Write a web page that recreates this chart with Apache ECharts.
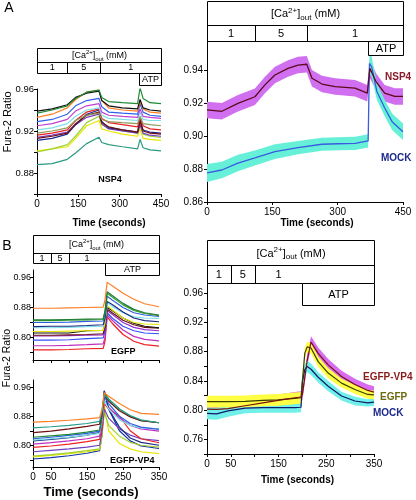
<!DOCTYPE html>
<html><head><meta charset="utf-8">
<script src="https://cdn.jsdelivr.net/npm/echarts@6/dist/echarts.min.js"></script>
<style>html,body{margin:0;padding:0;background:#fff}#c{width:416px;height:500px}</style>
</head><body><div id="c"></div>
<script>
// ================= DATA =================
// Panel A (left): individual NSP4 cell traces
const tA = [0,55,110,140,180,225,235,260,310,365,374,385,410,450];
const greenA   = [0.937,0.940,0.944,0.951,0.957,0.959,0.952,0.948,0.947,0.946,0.961,0.951,0.947,0.946];
const blackA   = [0.939,0.941,0.945,0.952,0.956,0.958,0.949,0.944,0.942,0.941,0.950,0.942,0.940,0.939];
const orangeA  = [0.933,0.936,0.942,0.950,0.957,0.959,0.949,0.942,0.940,0.939,0.948,0.941,0.938,0.937];
const blueA    = [0.929,0.931,0.936,0.944,0.949,0.951,0.943,0.938,0.937,0.936,0.946,0.938,0.935,0.934];
const magentaA = [0.925,0.927,0.931,0.939,0.944,0.946,0.938,0.935,0.934,0.933,0.941,0.934,0.933,0.932];
const cyanA    = [0.921,0.923,0.927,0.934,0.940,0.942,0.935,0.932,0.931,0.930,0.938,0.931,0.930,0.930];
const oliveA   = [0.918,0.920,0.923,0.930,0.935,0.937,0.931,0.929,0.928,0.927,0.934,0.927,0.926,0.925];
const redA     = [0.916,0.918,0.921,0.930,0.938,0.941,0.932,0.928,0.926,0.924,0.933,0.925,0.922,0.921];
const purpleA  = [0.914,0.916,0.919,0.926,0.933,0.936,0.927,0.922,0.920,0.918,0.926,0.918,0.916,0.915];
const darkredA = [0.913,0.915,0.918,0.927,0.935,0.938,0.928,0.924,0.921,0.919,0.929,0.920,0.918,0.917];
const navyA    = [0.911,0.913,0.917,0.926,0.936,0.940,0.929,0.923,0.921,0.919,0.931,0.921,0.919,0.918];
const limeA    = [0.900,0.903,0.907,0.915,0.928,0.934,0.926,0.923,0.920,0.918,0.925,0.917,0.915,0.914];
const yellowA  = [0.901,0.903,0.905,0.913,0.925,0.930,0.922,0.920,0.917,0.915,0.922,0.913,0.912,0.911];
const tealA    = [0.888,0.889,0.893,0.899,0.908,0.914,0.909,0.907,0.905,0.903,0.912,0.904,0.902,0.901];

// Panel A (right): mean +/- SEM
const tNsp4   = [0,34,71,110,133,156,186,209,229,241,264,294,340,368,374,388,408,431,450];
const nsp4Mean= [0.9158,0.9150,0.9198,0.9238,0.931,0.937,0.941,0.943,0.9435,0.935,0.9315,0.930,0.929,0.926,0.941,0.933,0.926,0.924,0.924];
const nsp4Sem = [0.005,0.005,0.005,0.005,0.005,0.005,0.005,0.005,0.005,0.005,0.005,0.005,0.005,0.005,0.006,0.005,0.005,0.005,0.005];
const tMock   = [0,34,71,110,156,209,264,300,340,370,373,378,390,408,425,440,450];
const mockMean= [0.8776,0.8794,0.8836,0.8867,0.8905,0.893,0.895,0.8953,0.8955,0.897,0.944,0.942,0.927,0.917,0.9087,0.905,0.9026];
const mockSem = [0.0055,0.005,0.005,0.0045,0.0045,0.004,0.004,0.004,0.004,0.004,0.006,0.006,0.005,0.005,0.005,0.005,0.005];

// Panel B (left top): EGFP cell traces
const tBe = [0,50,100,150,195,200,206,220,250,280,310,350];
const orangeBe  = [0.878,0.878,0.879,0.880,0.881,0.900,0.947,0.938,0.918,0.902,0.890,0.882];
const dgreenBe  = [0.847,0.847,0.848,0.849,0.850,0.870,0.922,0.912,0.891,0.875,0.866,0.860];
const greenBe   = [0.845,0.845,0.846,0.847,0.848,0.868,0.918,0.908,0.887,0.872,0.864,0.858];
const blueBe    = [0.840,0.840,0.841,0.843,0.844,0.862,0.910,0.900,0.880,0.866,0.860,0.856];
const navyBe    = [0.829,0.830,0.830,0.832,0.834,0.850,0.896,0.888,0.868,0.852,0.845,0.842];
const cyanBe    = [0.826,0.826,0.827,0.829,0.830,0.848,0.893,0.883,0.866,0.855,0.852,0.851];
const yellowBe  = [0.816,0.816,0.817,0.818,0.819,0.838,0.885,0.874,0.852,0.840,0.836,0.835];
const blackBe   = [0.812,0.812,0.812,0.818,0.819,0.836,0.880,0.872,0.852,0.838,0.830,0.826];
const darkredBe = [0.806,0.806,0.807,0.808,0.810,0.828,0.876,0.866,0.846,0.834,0.827,0.825];
const violetBe  = [0.804,0.804,0.805,0.806,0.807,0.824,0.872,0.862,0.840,0.827,0.821,0.818];
const blue2Be   = [0.793,0.793,0.794,0.797,0.799,0.816,0.866,0.852,0.830,0.818,0.812,0.810];
const magentaBe = [0.778,0.778,0.779,0.781,0.783,0.800,0.860,0.846,0.820,0.803,0.795,0.791];
const redBe     = [0.767,0.767,0.768,0.770,0.771,0.790,0.855,0.838,0.808,0.790,0.781,0.777];

// Panel B (left bottom): EGFP-VP4 cell traces
const tBv = [0,50,100,150,185,192,198,210,240,270,300,350];
const orangeBv  = [0.864,0.866,0.869,0.873,0.876,0.900,0.945,0.935,0.915,0.898,0.888,0.885];
const tealBv    = [0.848,0.851,0.855,0.860,0.866,0.895,0.940,0.926,0.900,0.882,0.870,0.862];
const darkredBv = [0.835,0.839,0.845,0.852,0.858,0.890,0.940,0.922,0.895,0.878,0.868,0.862];
const greenBv   = [0.822,0.826,0.830,0.836,0.842,0.880,0.945,0.928,0.900,0.880,0.868,0.862];
const blueBv    = [0.818,0.822,0.827,0.833,0.839,0.880,0.936,0.915,0.880,0.860,0.850,0.844];
const cyanBv    = [0.814,0.818,0.822,0.828,0.833,0.870,0.925,0.900,0.870,0.855,0.848,0.845];
const navyBv    = [0.812,0.816,0.821,0.828,0.835,0.880,0.950,0.900,0.850,0.820,0.808,0.800];
const magentaBv = [0.803,0.807,0.812,0.818,0.825,0.860,0.925,0.905,0.875,0.855,0.845,0.839];
const redBv     = [0.794,0.798,0.803,0.810,0.816,0.850,0.915,0.900,0.880,0.840,0.818,0.807];
const purpleBv  = [0.782,0.786,0.790,0.795,0.800,0.840,0.900,0.875,0.845,0.828,0.818,0.813];
const ygreenBv  = [0.770,0.774,0.779,0.785,0.790,0.830,0.890,0.855,0.825,0.808,0.800,0.795];
const yellowBv  = [0.768,0.772,0.777,0.782,0.788,0.830,0.910,0.840,0.805,0.790,0.782,0.777];
const dblueBv   = [0.762,0.766,0.771,0.778,0.785,0.830,0.950,0.900,0.840,0.812,0.798,0.791];

// Panel B (right): mean +/- SEM
const tBm      = [0,20,44,80,117,149,184,197,200,205,210,218,233,254,282,310,337,350];
const vp4Mean  = [0.8013,0.801,0.802,0.806,0.810,0.8135,0.817,0.818,0.822,0.845,0.868,0.893,0.8776,0.862,0.846,0.835,0.827,0.8247];
const vp4Sem   = [0.008,0.008,0.008,0.008,0.008,0.008,0.008,0.008,0.008,0.008,0.008,0.008,0.008,0.008,0.008,0.008,0.008,0.008];
const egfpMean = [0.8116,0.8116,0.8116,0.812,0.8135,0.814,0.816,0.817,0.840,0.878,0.8866,0.885,0.8664,0.8507,0.837,0.8283,0.8215,0.821];
const egfpSem  = [0.008,0.008,0.008,0.008,0.008,0.008,0.008,0.008,0.008,0.007,0.007,0.007,0.007,0.007,0.006,0.006,0.006,0.006];
const mockBMean= [0.7955,0.795,0.799,0.8027,0.8035,0.8035,0.8035,0.804,0.8395,0.8556,0.8597,0.856,0.845,0.8328,0.8193,0.8125,0.810,0.811];
const mockBSem = [0.008,0.008,0.008,0.007,0.007,0.007,0.007,0.007,0.008,0.008,0.008,0.008,0.007,0.007,0.006,0.006,0.005,0.005];

// Protocol bars
const caSegA = [[0,110,'1'],[110,230,'5'],[230,450,'1']];
const caLabelAtA = [55,170,340];
const atpA = [370,450];
const caSegB = [[0,50,'1'],[50,100,'5'],[100,350,'1']];
const caLabelAtB = [25,75,150];
const atpB = [200,350];

// Tick values
const xTicksA = [0,150,300,450];
const xTicksB = [0,50,100,150,200,250,300,350];
const xLabelsB = [0,50,150,250,350];
const yTicksAL = [0.86,0.88,0.90,0.92,0.94,0.96];
const yLabelsAL = [0.88,0.92,0.96];
const yTicksAR = [0.86,0.88,0.90,0.92,0.94];
const yTicksBL = [0.76,0.80,0.84,0.88,0.92,0.96];
const yLabelsBL = [0.80,0.88,0.96];
const yTicksBR = [0.74,0.76,0.78,0.80,0.82,0.84,0.86,0.88,0.90,0.92,0.94,0.96];
const yLabelsBR = [0.76,0.80,0.84,0.88,0.92,0.96];

// ================= LAYOUT / STYLE =================
const FONT = '"Liberation Sans", Arial, sans-serif';
const grids = [
  {left:37, top:89, width:124, height:105},
  {left:207, top:41, width:196, height:161},
  {left:33, top:270, width:126, height:90},
  {left:33, top:380, width:126, height:88},
  {left:207, top:283, width:167, height:171}
];
const hdr = [
  {axis:0, top:48, split:62, bottom:73, atpBottom:85, fs:9, segs:caSegA, at:caLabelAtA, atp:atpA},
  {axis:1, top:1, split:25, bottom:41, atpBottom:55, fs:11, segs:caSegA, at:caLabelAtA, atp:atpA},
  {axis:2, top:235, split:253, bottom:263, atpBottom:275, fs:9, segs:caSegB, at:caLabelAtB, atp:atpB},
  {axis:4, top:240, split:265, bottom:283, atpBottom:305, fs:11, segs:caSegB, at:caLabelAtB, atp:atpB}
];

const axisCommon = {
  axisLine:{show:true, onZero:false, lineStyle:{color:'#000', width:1}},
  splitLine:{show:false}
};
function xAx(gi, max, ticks, labels, showLab, name, nameStyle){
  return Object.assign({}, axisCommon, {
    type:'value', gridIndex:gi, min:0, max:max,
    axisTick:{show:true, length:3, lineStyle:{color:'#000'}, customValues:ticks},
    axisLabel:{show:showLab, customValues:labels, color:'#000', fontSize:10, fontFamily:FONT, margin:5},
    name:name, nameLocation:'middle', nameGap:nameStyle ? nameStyle.gap : 0,
    nameTextStyle: nameStyle ? {color:'#000', fontWeight:'bold', fontSize:nameStyle.fs, fontFamily:FONT, padding:nameStyle.pad} : {}
  });
}
function yAx(gi, min, max, ticks, labels, fs, margin){
  return Object.assign({}, axisCommon, {
    type:'value', gridIndex:gi, min:min, max:max,
    axisTick:{show:true, length:3, lineStyle:{color:'#000'}, customValues:ticks},
    axisLabel:{customValues:labels, color:'#000', fontSize:fs, fontFamily:FONT, margin:margin,
      formatter:v=>v.toFixed(2)}
  });
}

const series = [];
function addLine(gi, t, v, color, w, z){
  series.push({type:'line', xAxisIndex:gi, yAxisIndex:gi, data:t.map((x,i)=>[x,v[i]]),
    showSymbol:false, symbol:'none', silent:true, z:z||2,
    lineStyle:{color:color, width:w||1.1}});
}
function addBand(gi, t, mean, sem, color){
  series.push({type:'custom', xAxisIndex:gi, yAxisIndex:gi, silent:true, z:1, clip:true,
    data:[[t[0], mean[0]]],
    renderItem:(params, api)=>{
      const up = t.map((x,i)=>api.coord([x, mean[i]+sem[i]]));
      const lo = t.map((x,i)=>api.coord([x, mean[i]-sem[i]])).reverse();
      return {type:'polygon', shape:{points:up.concat(lo)}, style:{fill:color}};
    }});
}

// Panel A left
[[tealA,'#2a9a80'],[yellowA,'#e6e600'],[limeA,'#9bd23c'],[purpleA,'#7a3cc0'],[navyA,'#1c2a90'],
 [darkredA,'#6b1010'],[redA,'#e82020'],[oliveA,'#8a9a5b'],[cyanA,'#7fe0e8'],[magentaA,'#c040d0'],
 [blueA,'#3060f0'],[orangeA,'#ff7f27'],[blackA,'#111111'],[greenA,'#1e8b34']]
 .forEach(p=>addLine(0,tA,p[0],p[1],1.2));
// Panel A right
addBand(1,tNsp4,nsp4Mean,nsp4Sem,'#d070f0');
addBand(1,tMock,mockMean,mockSem,'#66f0d8');
addLine(1,tMock,mockMean,'#3a5ae0',1.3,3);
addLine(1,tNsp4,nsp4Mean,'#5c0a1e',1.3,3);
// Panel B left top
[[redBe,'#ee2020'],[magentaBe,'#c030c0'],[blue2Be,'#3050ff'],[violetBe,'#9b30d0'],[darkredBe,'#6b1010'],
 [blackBe,'#111111'],[yellowBe,'#e6e600'],[cyanBe,'#7fe0e8'],[navyBe,'#1a2a80'],[blueBe,'#2f5fe0'],
 [greenBe,'#33a02c'],[dgreenBe,'#1e7b34'],[orangeBe,'#ff7f27']]
 .forEach(p=>addLine(2,tBe,p[0],p[1],1.2));
// Panel B left bottom
[[dblueBv,'#1133aa'],[yellowBv,'#e6e600'],[ygreenBv,'#a0d030'],[purpleBv,'#7040c0'],[redBv,'#ee2020'],
 [magentaBv,'#c030c0'],[navyBv,'#1a2a80'],[cyanBv,'#7fe0e8'],[blueBv,'#2f5fe0'],[greenBv,'#1e8b34'],
 [darkredBv,'#6b1010'],[tealBv,'#2aa08a'],[orangeBv,'#ff7f27']]
 .forEach(p=>addLine(3,tBv,p[0],p[1],1.2));
// Panel B right
addBand(4,tBm,vp4Mean,vp4Sem,'#d86cf0');
addBand(4,tBm,mockBMean,mockBSem,'#70f0e8');
addBand(4,tBm,egfpMean,egfpSem,'#ffff44');
addLine(4,tBm,mockBMean,'#101870',1.2,3);
addLine(4,tBm,egfpMean,'#3c3c00',1.2,3);
addLine(4,tBm,vp4Mean,'#7a1010',1.2,3);

const chart = echarts.init(document.getElementById('c'), null, {renderer:'canvas'});
chart.setOption({
  animation:false, backgroundColor:'#fff',
  grid: grids.map(g=>Object.assign({containLabel:false}, g)),
  xAxis:[
    xAx(0,450,xTicksA,xTicksA,true,'Time (seconds)',{gap:24,fs:10,pad:[0,0,0,20]}),
    xAx(1,450,xTicksA,xTicksA,true,'Time (seconds)',{gap:16,fs:10,pad:[0,0,0,24]}),
    xAx(2,350,xTicksB,xLabelsB,false,'',null),
    xAx(3,350,xTicksB,xLabelsB,true,'Time (seconds)',{gap:19,fs:13,pad:[0,10,0,0]}),
    xAx(4,350,xTicksB,xLabelsB,true,'Time (seconds)',{gap:21,fs:10,pad:[0,0,0,14]})
  ],
  yAxis:[
    yAx(0,0.86,0.96,yTicksAL,yLabelsAL,9.5,3),
    yAx(1,0.86,0.9576,yTicksAR,yTicksAR,10,4),
    yAx(2,0.74,0.98,yTicksBL,yLabelsBL,9,2),
    yAx(3,0.74,0.98,yTicksBL,yLabelsBL,9,2),
    yAx(4,0.74,0.974,yTicksBR,yLabelsBR,10,4)
  ],
  series:series
});

// ---- annotations (protocol bars, labels) ----
const els = [];
function txt(x,y,text,o){
  o=o||{};
  els.push({type:'text', x:x, y:y, rotation:o.rot||0, z:100,
    style:Object.assign({text:text, fill:o.color||'#000', fontSize:o.fs||10, fontFamily:FONT,
      fontWeight:o.bold?'bold':'normal', align:o.align||'center', verticalAlign:'middle',
      textAlign:o.align||'center', textVerticalAlign:'middle'}, o.extra||{})});
}
hdr.forEach(h=>{
  const px = t=>chart.convertToPixel({xAxisIndex:h.axis}, t);
  const sx = t=>Math.round(px(t))+0.5;
  const x0 = sx(h.segs[0][0]), x1 = sx(h.segs[h.segs.length-1][1]);
  const ln = {stroke:'#000', lineWidth:1};
  els.push({type:'rect', z:90, shape:{x:x0, y:h.top+0.5, width:x1-x0, height:h.bottom-h.top}, style:{fill:'#fff', stroke:'#000', lineWidth:1}});
  els.push({type:'line', z:91, shape:{x1:x0, y1:h.split+0.5, x2:x1, y2:h.split+0.5}, style:ln});
  h.segs.slice(1).forEach(s=>{const x=sx(s[0]); els.push({type:'line', z:91, shape:{x1:x, y1:h.split+0.5, x2:x, y2:h.bottom+0.5}, style:ln});});
  h.segs.forEach((s,i)=>txt(px(h.at[i]), (h.split+h.bottom)/2+0.5, s[2], {fs:h.fs}));
  const sub = h.fs-3;
  txt((x0+x1)/2, (h.top+h.split)/2+1, '[Ca{sup|2+}]{sub|out} (mM)', {fs:h.fs, extra:{
    rich:{sup:{fontSize:sub, fontFamily:FONT, verticalAlign:'top', lineHeight:h.fs+4},
          sub:{fontSize:sub, fontFamily:FONT, verticalAlign:'bottom', lineHeight:h.fs+4}}}});
  const a0 = sx(h.atp[0]), a1 = sx(h.atp[1]);
  els.push({type:'rect', z:90, shape:{x:a0, y:h.bottom+0.5, width:a1-a0, height:h.atpBottom-h.bottom}, style:{fill:'#fff', stroke:'#000', lineWidth:1}});
  txt((a0+a1)/2, (h.bottom+h.atpBottom)/2+1, 'ATP', {fs:h.fs});
});
txt(9,8,'A',{fs:14});
txt(7,246,'B',{fs:14});
txt(8,122,'Fura-2 Ratio',{fs:11, rot:Math.PI/2});
txt(7,358,'Fura-2 Ratio',{fs:10.5, rot:Math.PI/2});
txt(110,180,'NSP4',{fs:9, bold:true});
txt(111,352,'EGFP',{fs:9, bold:true, align:'left'});
txt(110,461,'EGFP-VP4',{fs:9, bold:true, align:'left'});
txt(385,77,'NSP4',{fs:10, bold:true, color:'#8b1a2a', align:'left'});
txt(381,158,'MOCK',{fs:10, bold:true, color:'#1c2a8c', align:'left'});
txt(363,377,'EGFP-VP4',{fs:10, bold:true, color:'#8b1a1a', align:'left'});
txt(380,397,'EGFP',{fs:10, bold:true, color:'#6b6b10', align:'left'});
txt(373,413,'MOCK',{fs:10, bold:true, color:'#1c2a8c', align:'left'});
chart.setOption({graphic:{elements:els}});
</script>
</body></html>
